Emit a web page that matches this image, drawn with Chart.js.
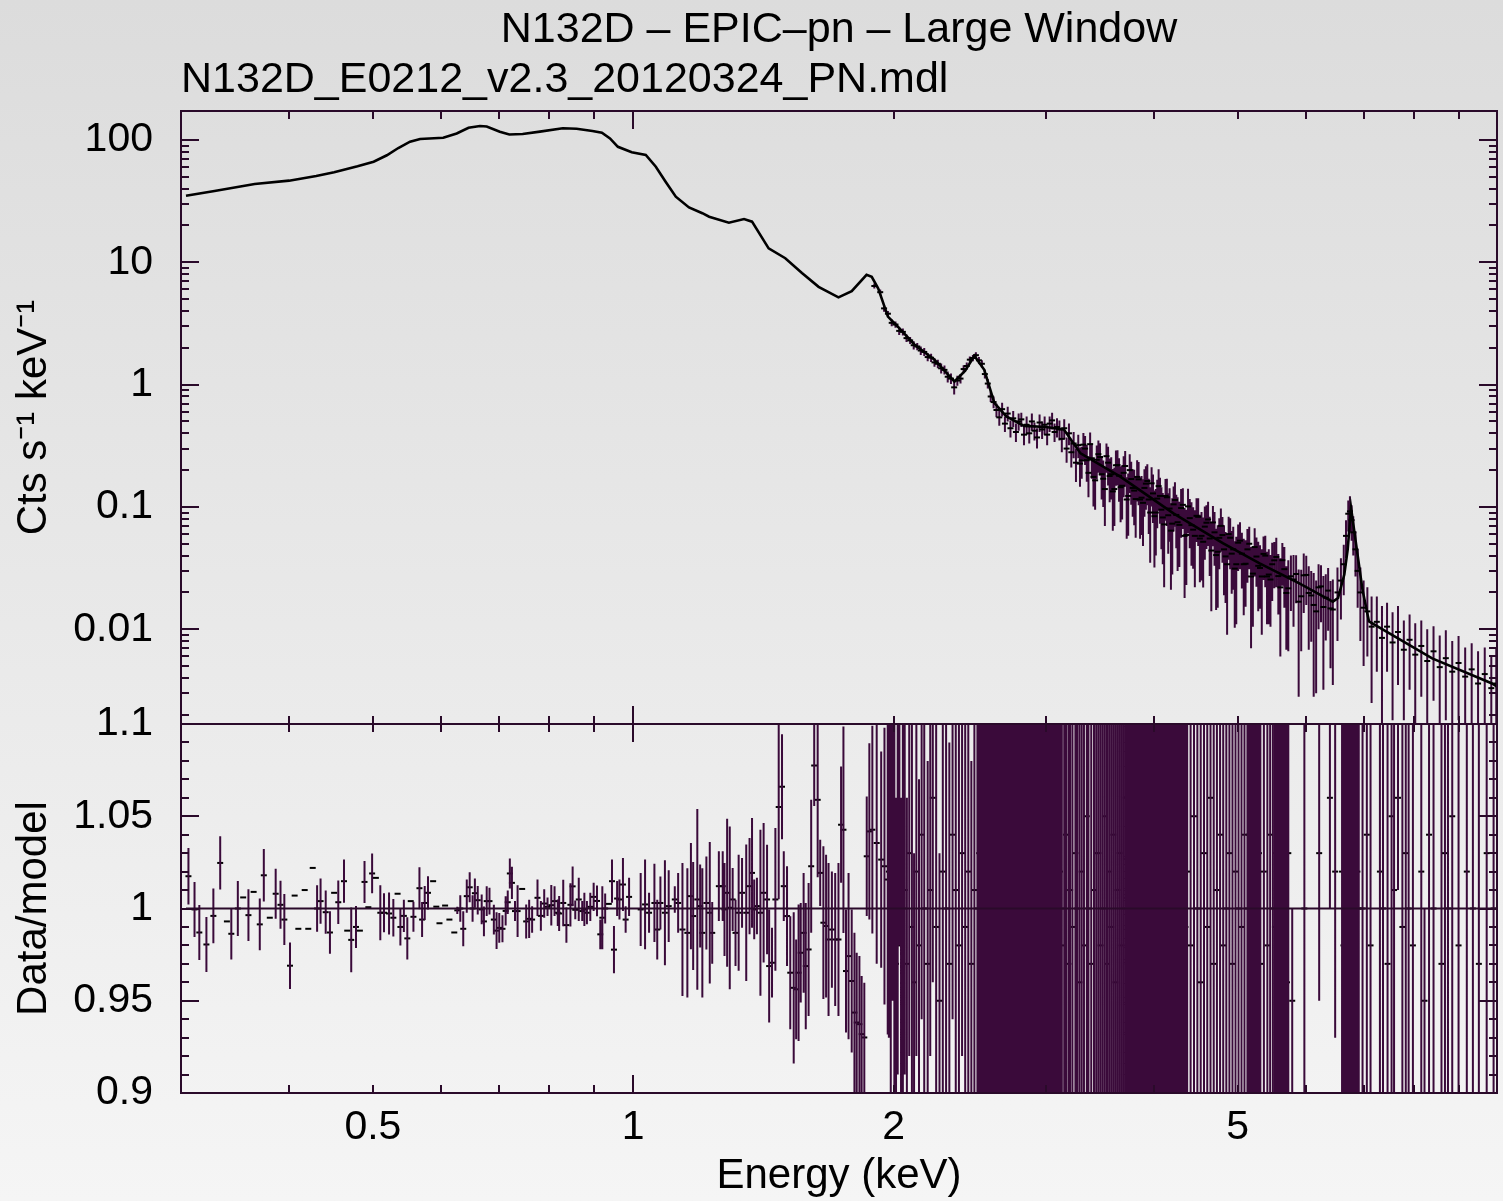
<!DOCTYPE html>
<html>
<head>
<meta charset="utf-8">
<script src="https://cdn.jsdelivr.net/npm/chart.js"></script>
<style>
  html, body { margin: 0; padding: 0; }
  body {
    width: 1503px; height: 1201px; position: relative; overflow: hidden;
    background: linear-gradient(#dcdcdc, #f5f5f5);
  }
  canvas { position: absolute; left: 0; top: 0; }
</style>
</head>
<body>
<canvas id="spec" width="1503" height="1201"></canvas>
<canvas id="ratio" width="1503" height="1201"></canvas>
<script>
// axis ranges
const xMin = 0.304, xMax = 9.97;
const specMin = 0.00168, specMax = 172.6;
const ratioMin = 0.9, ratioMax = 1.1;

const titleText = 'N132D \u2013 EPIC\u2013pn \u2013 Large Window';
const subtitleText = 'N132D_E0212_v2.3_20120324_PN.mdl';

// tick labels
const xTicks = [0.5, 1, 2, 5];
const xTickLabels = ['0.5', '1', '2', '5'];
const specTicks = [0.01, 0.1, 1, 10, 100];
const specTickLabels = ['0.01', '0.1', '1', '10', '100'];
const ratioTicks = [0.9, 0.95, 1, 1.05, 1.1];
const ratioTickLabels = ['0.9', '0.95', '1', '1.05', '1.1'];

// model curve (keV, counts/s/keV)
const modelE = [0.304, 0.328, 0.365, 0.40, 0.43, 0.451, 0.48, 0.501, 0.519, 0.535,
  0.552, 0.567, 0.603, 0.625, 0.645, 0.665, 0.677, 0.701, 0.719, 0.745,
  0.78, 0.829, 0.86, 0.897, 0.92, 0.94, 0.96, 0.996, 1.034, 1.062,
  1.09, 1.12, 1.16, 1.202, 1.224, 1.29, 1.343, 1.372, 1.434, 1.499,
  1.567, 1.638, 1.727, 1.789, 1.861, 1.887, 1.92, 1.97, 2.024, 2.115,
  2.23, 2.352, 2.42, 2.48, 2.546, 2.615, 2.7, 2.83, 3.0, 3.147,
  3.29, 3.657, 4.213, 4.81, 5.3, 5.89, 6.44, 6.53, 6.64, 6.70,
  6.76, 6.85, 6.97, 7.09, 8.39, 9.84, 9.97];
const modelRate = [35, 38.3, 43.7, 46.5, 50.8, 54.4, 61, 66.5, 75, 86,
  96.8, 102, 104.4, 113, 126, 130, 129, 117, 111, 112,
  117, 124.6, 123.5, 118.5, 114.7, 103, 88, 79.3, 75.4, 60.5,
  45.6, 34.4, 28.1, 25.2, 23.6, 21.1, 22.6, 21.5, 13, 10.8,
  8.17, 6.3, 5.17, 5.8, 7.9, 7.6, 6.1, 3.6, 2.96, 2.12,
  1.6, 1.06, 1.3, 1.72, 1.32, 0.71, 0.55, 0.46, 0.45, 0.43,
  0.274, 0.177, 0.0887, 0.0504, 0.0345, 0.0237, 0.0168, 0.018, 0.028, 0.045,
  0.098, 0.05, 0.0209, 0.0116, 0.00578, 0.0036, 0.0034];

// spectrum data points: [keV, rate, error]
const specData = [
  [1.90,6.4,0.3],[1.93,5.7,0.3],[1.95,4.2,0.25],[1.97,3.8,0.2],[1.99,3.2,0.2],
  [2.01,3.1,0.18],[2.03,2.75,0.2],[2.05,2.7,0.18],[2.07,2.4,0.17],[2.09,2.3,0.15],
  [2.11,2.1,0.16],[2.13,2.05,0.14],[2.15,1.9,0.15],[2.17,1.85,0.14],[2.19,1.68,0.13],
  [2.21,1.66,0.13],[2.23,1.52,0.12],[2.25,1.48,0.12],[2.27,1.36,0.13],[2.29,1.32,0.11],
  [2.31,1.16,0.12],[2.33,1.12,0.11],[2.35,0.95,0.12],[2.37,1.08,0.1],[2.39,1.12,0.1],
  [2.41,1.34,0.1],[2.43,1.42,0.1],[2.45,1.6,0.1],[2.47,1.65,0.1],[2.49,1.74,0.1],
  [2.51,1.58,0.1],[2.53,1.48,0.1],[2.55,1.22,0.1],[2.57,1.02,0.09],[2.59,0.8,0.08],
  [2.61,0.72,0.08],[2.63,0.62,0.08],[2.65,0.54,0.08],[2.67,0.63,0.08],[2.69,0.48,0.07],
  [2.71,0.58,0.08],[2.73,0.44,0.07],[2.75,0.53,0.08],[2.77,0.41,0.07],[2.79,0.5,0.08],
  [2.81,0.52,0.07],[2.83,0.39,0.07],[2.85,0.47,0.08],[2.87,0.4,0.07],[2.89,0.5,0.08],
  [2.91,0.42,0.07],[2.93,0.37,0.07],[2.95,0.49,0.08],[2.97,0.43,0.07],[2.99,0.47,0.08],
  [3.01,0.39,0.07],[3.03,0.48,0.07],[3.05,0.51,0.08],[3.07,0.41,0.07],[3.09,0.45,0.08],
  [3.11,0.43,0.08],[3.13,0.36,0.08],[3.15,0.44,0.08],[3.17,0.30,0.07],[3.19,0.40,0.08],
  [3.21,0.28,0.07],[3.23,0.33,0.08],[3.25,0.23,0.07],[3.27,0.32,0.07],[3.30,0.24,0.07],
  [3.33,0.30,0.08],[3.36,0.19,0.07],[3.39,0.25,0.08],[3.42,0.165,0.07],[3.45,0.27,0.08],
  [3.48,0.185,0.07],[3.51,0.14,0.07],[3.54,0.23,0.08],[3.57,0.185,0.07],[3.60,0.14,0.07],
  [3.63,0.22,0.07],[3.66,0.145,0.07],[3.69,0.19,0.07],[3.72,0.115,0.06],[3.75,0.2,0.07],
  [3.78,0.143,0.06],[3.81,0.116,0.06],[3.84,0.168,0.065],[3.87,0.119,0.06],[3.90,0.143,0.06],
  [3.93,0.163,0.06],[3.96,0.09,0.055],[3.99,0.129,0.055],[4.02,0.09,0.05],[4.05,0.148,0.055],
  [4.08,0.095,0.05],[4.11,0.072,0.05],[4.14,0.12,0.05],[4.17,0.097,0.045],[4.20,0.073,0.045],
  [4.23,0.114,0.045],[4.26,0.075,0.045],[4.30,0.098,0.042],[4.34,0.058,0.04],[4.38,0.101,0.04],
  [4.42,0.071,0.038],[4.46,0.058,0.036],[4.50,0.083,0.035],[4.54,0.058,0.033],[4.58,0.069,0.032],
  [4.62,0.079,0.031],[4.66,0.044,0.03],[4.70,0.062,0.029],[4.74,0.043,0.028],[4.78,0.07,0.027],
  [4.82,0.045,0.026],[4.86,0.034,0.025],[4.90,0.056,0.025],[4.94,0.045,0.024],[4.98,0.034,0.023],
  [5.03,0.053,0.022],[5.08,0.034,0.021],[5.13,0.045,0.021],[5.18,0.027,0.02],[5.23,0.047,0.02],
  [5.28,0.033,0.019],[5.33,0.027,0.018],[5.38,0.04,0.018],[5.43,0.028,0.017],[5.48,0.034,0.017],
  [5.54,0.039,0.017],[5.60,0.022,0.016],[5.66,0.031,0.016],[5.72,0.0216,0.015],[5.80,0.0255,0.015],
  [5.88,0.0168,0.014],[5.96,0.0276,0.014],[6.04,0.0198,0.013],[6.12,0.0158,0.013],[6.20,0.022,0.012],
  [6.28,0.0152,0.012],[6.36,0.0207,0.011],[6.44,0.0145,0.011],[6.52,0.02,0.012],[6.58,0.025,0.013],
  [6.63,0.034,0.015],[6.67,0.058,0.02],[6.71,0.088,0.025],[6.74,0.092,0.03],[6.77,0.078,0.025],
  [6.80,0.062,0.022],[6.84,0.045,0.018],[6.88,0.03,0.015],[6.93,0.02,0.012],[6.99,0.015,0.01],
  [7.06,0.014,0.008],[7.14,0.0105,0.008],[7.24,0.0115,0.007],[7.34,0.0085,0.007],[7.44,0.0105,0.006],
  [7.55,0.0078,0.006],[7.66,0.0095,0.006],[7.78,0.0068,0.005],[7.90,0.0082,0.005],[8.02,0.0062,0.005],
  [8.15,0.0073,0.0045],[8.28,0.0055,0.0045],[8.42,0.0066,0.004],[8.56,0.0049,0.004],[8.70,0.0058,0.004],
  [8.85,0.0045,0.0035],[9.00,0.0053,0.0035],[9.16,0.0041,0.003],[9.32,0.0047,0.003],[9.48,0.0036,0.003],
  [9.65,0.0043,0.0028],[9.82,0.0033,0.0028],[9.95,0.0036,0.0035],
  // bins in between, where the band is densest
  [3.285,0.226,0.08],[3.315,0.323,0.08],[3.345,0.241,0.08],[3.375,0.326,0.08],[3.405,0.176,0.075],
  [3.435,0.243,0.075],[3.465,0.256,0.075],[3.495,0.170,0.07],[3.525,0.26,0.07],[3.555,0.179,0.07],
  [3.585,0.134,0.07],[3.615,0.219,0.07],[3.645,0.18,0.07],[3.675,0.149,0.07],[3.705,0.216,0.07],
  [3.735,0.123,0.065],[3.765,0.169,0.065],[3.795,0.136,0.065],[3.825,0.176,0.065],[3.855,0.115,0.06],
  [3.885,0.108,0.06],[3.915,0.155,0.06],[3.945,0.115,0.055],[3.975,0.156,0.055],[4.005,0.084,0.052],
  [4.035,0.117,0.05],[4.065,0.123,0.05],[4.095,0.082,0.048],[4.125,0.123,0.046],[4.155,0.0855,0.044],
  [4.185,0.064,0.043],[4.215,0.105,0.042],[4.245,0.086,0.04],[4.28,0.0713,0.039],[4.32,0.104,0.038],
  [4.36,0.059,0.036],[4.40,0.081,0.035],[4.44,0.0652,0.034],[4.48,0.0846,0.033],[4.52,0.0552,0.031],
  [4.56,0.0519,0.03],[4.60,0.0743,0.029],[4.64,0.0552,0.028],[4.68,0.0747,0.027],[4.72,0.0404,0.026],
  [4.76,0.0559,0.025],[4.80,0.0589,0.024],[4.84,0.0394,0.023],[4.88,0.06,0.023],[4.92,0.0415,0.022],
  [4.96,0.0313,0.021],[5.005,0.051,0.021],[5.055,0.0415,0.02],[5.105,0.0343,0.019],[5.155,0.05,0.019],
  [5.205,0.0285,0.018],[5.255,0.0393,0.017],[5.305,0.0317,0.017],[5.355,0.0413,0.016],[5.405,0.027,0.016],
  [5.455,0.0255,0.015],[5.51,0.0366,0.015],[5.57,0.0272,0.014],[5.63,0.0367,0.014],[5.69,0.0198,0.013],
  [5.76,0.0271,0.013],[5.84,0.0283,0.012],[5.92,0.0186,0.012],[6.0,0.0278,0.012],[6.08,0.0189,0.011],
  [6.16,0.014,0.011],[6.24,0.0224,0.011],[6.32,0.0181,0.01],[6.40,0.0148,0.01]
];

// data/model ratio: [keV, ratio, error]
const ratioData = [
  [0.306,1.0175,0.0153],[0.311,0.9995,0.0149],[0.315,0.987,0.0149],[0.321,0.9805,0.0149],[0.327,0.996,0.0149],
  [0.333,1.0247,0.0144],[0.339,0.993,0],[0.343,0.9863,0.014],[0.349,1.0,0.0149],[0.354,1.006,0],
  [0.359,0.9964,0.014],[0.364,1.009,0],[0.370,0.9914,0.014],[0.374,1.018,0.0142],[0.380,0.995,0],
  [0.386,1.008,0.0136],[0.391,1.002,0.013],[0.395,0.994,0.0138],[0.401,0.969,0.0126],[0.406,1.007,0],
  [0.410,0.989,0],[0.417,1.010,0],[0.421,0.989,0],[0.426,1.022,0],[0.431,1.0,0.0126],
  [0.435,1.004,0.0122],[0.441,0.998,0.0117],[0.446,0.987,0.0115],[0.451,1.0085,0],[0.456,1.0034,0.0118],
  [0.463,1.0148,0.0117],[0.467,0.988,0],[0.472,0.983,0.0176],[0.478,0.990,0.0114],[0.483,0.988,0],
  [0.489,1.0144,0.0114],[0.494,1.0007,0],[0.499,1.019,0.0108],[0.504,1.0166,0],[0.510,0.9977,0.0149],
  [0.515,0.9977,0.0106],[0.522,0.9973,0.0114],[0.528,0.995,0.0102],[0.534,1.008,0],[0.538,0.990,0.0101],
  [0.543,0.996,0.0088],[0.548,0.9838,0.0114],[0.553,1.004,0],[0.557,0.9955,0.0081],[0.566,1.011,0.0114],
  [0.570,0.994,0.0095],[0.574,1.003,0.0092],[0.579,1.0085,0.009],[0.587,1.0148,0],[0.592,1.001,0],
  [0.597,0.992,0],[0.606,1.0016,0],[0.613,0.994,0],[0.621,0.987,0],[0.626,0.999,0.002],
  [0.631,1.0,0.0072],[0.636,0.989,0.0095],[0.642,1.0067,0.009],[0.647,1.0115,0.0081],[0.652,1.0,0.0072],
  [0.656,1.0083,0.0079],[0.661,1.0045,0.0077],[0.668,0.9995,0.0081],[0.672,0.993,0.0081],[0.677,1.004,0.0081],
  [0.682,1.004,0.0072],[0.690,0.994,0.0081],[0.695,0.988,0.0099],[0.700,0.9895,0.0081],[0.706,0.989,0.0073],
  [0.712,0.9987,0.0079],[0.716,1.0034,0.0064],[0.720,1.019,0.0081],[0.724,1.0139,0.0087],[0.730,0.9986,0.0054],
  [0.735,0.9986,0.014],[0.744,1.0106,0],[0.752,0.993,0.0092],[0.758,0.9944,0.0104],[0.764,0.994,0.0072],
  [0.775,1.0058,0.0099],[0.782,0.996,0.0081],[0.789,1.0027,0.0077],[0.796,1.0009,0.005],[0.804,1.0018,0.011],
  [0.811,1.004,0.0081],[0.818,0.9977,0.0072],[0.821,0.9973,0.0095],[0.830,1.003,0.0126],[0.837,0.991,0.0095],
  [0.846,1.002,0.0117],[0.851,1.012,0.0108],[0.857,0.9993,0.0051],[0.865,1.0049,0.0117],[0.873,0.9986,0.0054],
  [0.878,0.9995,0.009],[0.884,0.9977,0.0063],[0.892,1.0009,0.0077],[0.900,1.0063,0.0077],[0.908,1.0041,0.0083],
  [0.916,0.986,0.0081],[0.921,0.995,0.0171],[0.928,1.0,0.0081],[0.937,1.0025,0],[0.945,1.0148,0.0117],
  [0.950,0.9777,0.0128],[0.958,1.0054,0.0095],[0.964,1.0049,0.0108],[0.973,1.013,0.0144],[0.980,0.994,0.0072],
  [0.989,1.0063,0.0104],
  [1.020,0.9995,0.0198],[1.032,1.0022,0.0243],[1.043,0.9977,0.0108],[1.058,1.003,0.0212],[1.066,0.9886,0.0162],
  [1.075,1.003,0.0144],[1.088,0.9977,0.0284],[1.099,1.0013,0.0194],[1.117,1.0049,0.0072],[1.127,1.003,0.0162],
  [1.140,0.9886,0.036],[1.155,0.9868,0.035],[1.166,1.0067,0.0288],[1.173,0.9959,0.0293],[1.186,1.0049,0.049],
  [1.195,1.0013,0.0225],[1.202,0.9868,0.035],[1.215,1.003,0.0252],[1.226,0.9977,0.0383],[1.234,0.9868,0.0167],
  [1.256,1.0121,0.0189],[1.269,1.0121,0.0189],[1.275,0.9995,0.0252],[1.284,1.0085,0.0401],[1.293,1.0004,0.0441],
  [1.303,1.0049,0.0171],[1.313,0.9868,0.018],[1.324,0.9977,0.0315],[1.336,1.0085,0.0189],[1.351,0.9977,0.037],
  [1.363,1.0121,0.0261],[1.372,1.0193,0.0297],[1.380,0.9995,0.0162],[1.390,1.0013,0.0153],[1.403,0.9977,0.045],
  [1.415,1.0085,0.0378],[1.428,1.0049,0.0297],[1.436,0.9688,0.0306],[1.447,0.9706,0.0189],[1.460,1.0049,0.0387],
  [1.473,1.055,0.05],[1.486,1.066,0.0284],[1.493,1.0121,0.0189],[1.506,0.9959,0.027],[1.519,0.9652,0.0306],
  [1.533,0.957,0.041],[1.543,0.9562,0.027],[1.553,0.9652,0.037],[1.562,0.976,0.027],[1.574,0.9868,0.0324],
  [1.583,0.9688,0.0342],[1.595,0.9778,0.036],[1.606,1.0229,0.036],[1.619,1.0775,0.022],[1.634,1.0589,0.042],
  [1.645,1.0193,0.018],[1.659,0.9923,0.0414],[1.671,0.9905,0.0387],[1.682,0.9832,0.0414],[1.697,0.9886,0.0315],
  [1.712,0.9832,0.036],[1.727,0.9832,0.0414],[1.739,1.0454,0.0315],[1.750,1.0427,0.056],[1.762,0.9661,0.0333],
  [1.774,0.9742,0.045],[1.789,0.9607,0.0387],[1.802,0.9436,0.0432],[1.813,0.9382,0.0378],[1.826,0.9373,0.0369],
  [1.837,0.9319,0.0315],[1.850,0.9301,0.0297],[1.862,1.0283,0.0324],[1.875,1.0418,0.0477],[1.890,1.0427,0.0563],
  [1.912,1.0355,0.0654],[1.935,1.0265,0.0586],[1.952,1.0229,0.075],[1.969,1.0157,0.084],
  [1.975,1.02,0.09],[1.985,0.99,0.11],[1.995,1.03,0.08],[2.004,1.0,0.12],[2.013,0.97,0.09],
  [2.022,1.01,0.1],[2.031,1.05,0.07],[2.04,0.98,0.08],[2.05,1.0,0.1],[2.06,1.01,0.1],
  [2.072,0.97,0.09],[2.085,1.03,0.11],[2.1,0.99,0.12],[2.112,0.96,0.07],[2.125,1.02,0.1],
  [2.14,0.98,0.09],[2.155,1.04,0.1],[2.17,1.0,0.12],[2.19,0.97,0.11],[2.205,1.01,0.09],
  [2.22,1.06,0.1],[2.24,0.99,0.13],[2.26,0.95,0.08],[2.28,1.02,0.12],[2.3,1.0,0.1],
  [2.32,0.97,0.12],[2.34,1.04,0.1],[2.36,1.01,0.13],[2.38,0.98,0.12],[2.4,1.03,0.11],
  [2.42,0.99,0.12],[2.44,1.02,0.13],[2.46,0.97,0.11],[2.48,1.01,0.12],
  [2.500,1.0,0.15],[2.512,1.03,0.18],[2.524,0.97,0.14],[2.536,1.02,0.2],[2.548,0.99,0.16],
  [2.560,1.05,0.17],[2.572,0.98,0.19],[2.584,1.01,0.15],[2.596,0.96,0.18],[2.608,1.04,0.16],
  [2.620,1.0,0.2],[2.632,0.98,0.17],[2.644,1.03,0.15],[2.656,1.01,0.19],[2.668,0.97,0.16],
  [2.680,1.02,0.18],[2.692,0.99,0.2],[2.704,1.04,0.15],[2.716,1.0,0.17],[2.728,0.97,0.19],
  [2.740,1.02,0.16],[2.752,1.05,0.18],[2.764,0.98,0.15],[2.776,1.0,0.2],[2.788,1.03,0.17],
  [2.800,0.96,0.16],[2.812,1.01,0.19],[2.824,0.99,0.18],[2.836,1.04,0.15],[2.848,1.0,0.2],
  [2.860,0.98,0.17],[2.872,1.02,0.16],[2.884,0.97,0.18],[2.896,1.03,0.19],[2.908,1.0,0.15],
  [2.920,0.99,0.2],[2.932,1.05,0.17],[2.944,0.98,0.16],[2.956,1.01,0.18],[2.968,1.02,0.15],
  [2.980,0.97,0.19],[2.992,1.0,0.2],[3.004,1.04,0.16],[3.016,0.99,0.17],[3.028,1.01,0.18],
  [3.040,0.96,0.15],[3.052,1.03,0.19],[3.064,1.0,0.16],[3.076,0.98,0.2],[3.088,1.02,0.17],
  [3.100,1.0,0.18],
  [3.115,1.02,0.16],[3.13,0.98,0.18],[3.15,1.0,0.2],[3.165,1.04,0.15],[3.185,0.97,0.17],
  [3.2,1.01,0.19],[3.22,0.99,0.16],[3.245,1.03,0.2],[3.26,1.0,0.18],[3.28,0.96,0.17],
  [3.3,1.02,0.2],[3.32,0.98,0.19],[3.345,1.05,0.17],[3.36,1.0,0.2],[3.385,0.97,0.18],
  [3.41,1.01,0.2],[3.43,1.03,0.19],
  [3.45,1.03,0.22],[3.47,0.98,0.25],[3.49,1.0,0.2],[3.51,1.05,0.28],[3.53,0.97,0.24],
  [3.55,1.02,0.21],[3.57,0.99,0.26],[3.59,1.04,0.23],[3.61,0.96,0.27],[3.63,1.01,0.22],
  [3.65,1.03,0.25],[3.67,0.98,0.2],[3.69,1.0,0.29],[3.71,1.06,0.24],[3.73,0.97,0.22],
  [3.75,1.02,0.26],[3.77,0.99,0.21],[3.79,1.04,0.25],[3.81,1.0,0.23],[3.83,0.96,0.28],
  [3.85,1.03,0.22],[3.87,1.01,0.24],[3.89,0.98,0.27],[3.91,1.05,0.21],[3.93,0.99,0.25],
  [3.95,1.02,0.23],[3.97,0.97,0.26],[3.99,1.0,0.22],[4.01,1.04,0.28],[4.03,0.98,0.24],
  [4.05,1.01,0.21],[4.07,1.03,0.25],[4.09,0.96,0.27],[4.11,1.0,0.23],[4.13,1.05,0.22],
  [4.15,0.99,0.26],[4.17,1.02,0.24],[4.19,0.97,0.28],[4.21,1.01,0.21],[4.23,1.04,0.25],
  [4.25,0.98,0.23],[4.27,1.0,0.27],[4.29,1.03,0.22],[4.31,0.97,0.26],[4.33,1.02,0.24],
  [4.35,0.99,0.25],
  [4.37,1.02,0.28],[4.41,0.98,0.3],[4.45,1.05,0.25],[4.49,1.0,0.32],[4.53,0.96,0.27],
  [4.57,1.03,0.3],[4.61,0.99,0.26],[4.65,1.06,0.33],[4.69,0.97,0.28],[4.73,1.01,0.31],
  [4.77,1.04,0.27],[4.81,0.98,0.3],[4.85,1.0,0.34],[4.89,1.03,0.28],[4.93,0.97,0.3],
  [4.97,1.02,0.27],[5.01,1.0,0.32],[5.05,0.99,0.29],[5.09,1.04,0.3],
  [5.13,1.0,0.3],[5.15,1.04,0.33],[5.17,0.97,0.29],[5.19,1.02,0.35],[5.21,0.99,0.31],
  [5.23,1.05,0.3],[5.25,0.98,0.34],[5.27,1.01,0.32],[5.29,1.03,0.3],[5.31,0.97,0.33],
  [5.36,1.02,0.32],[5.41,0.98,0.35],[5.45,1.04,0.3],[5.49,1.0,0.34],
  [5.52,0.99,0.34],[5.54,1.03,0.36],[5.56,1.0,0.33],[5.58,0.97,0.37],[5.60,1.05,0.35],
  [5.62,1.01,0.34],[5.64,0.98,0.38],[5.66,1.02,0.35],[5.68,1.0,0.36],[5.70,0.96,0.34],
  [5.72,1.03,0.37],
  [5.78,0.95,0.05],[5.97,1.0,0.2],[6.21,1.03,0.08],[6.39,1.06,0.06],[6.48,1.02,0.09],
  [6.600,1.02,0.25],[6.625,0.98,0.22],[6.650,1.0,0.2],[6.675,1.04,0.18],[6.700,0.97,0.17],
  [6.725,1.01,0.2],[6.750,1.03,0.22],[6.775,0.99,0.25],[6.800,1.0,0.27],[6.825,1.05,0.3],
  [6.850,0.98,0.32],[6.875,1.02,0.35],[6.900,1.0,0.38],
  [6.97,1.0,0.4],[7.05,1.04,0.42],[7.12,0.98,0.38],[7.30,1.02,0.45],[7.36,1.0,0.4],
  [7.45,0.97,0.43],[7.53,1.05,0.41],[7.58,1.01,0.44],[7.66,1.06,0.05],[7.75,0.99,0.42],
  [7.82,1.03,0.46],[7.88,1.0,0.4],[7.97,0.98,0.44],[8.15,1.02,0.45],[8.22,0.95,0.05],
  [8.32,1.04,0.43],[8.42,1.0,0.47],[8.60,0.97,0.42],[8.68,1.03,0.45],[8.75,1.0,0.48],
  [8.85,1.05,0.44],[9.00,0.98,0.5],[9.20,1.02,0.46],[9.35,1.0,0.48],[9.50,0.97,0.5],
  [9.70,1.03,0.52],[9.88,1.0,0.55]
];

const axisColour = '#2a0a2a';
const barColour = 'rgb(58,10,58)';
const fontFamily = '"Liberation Sans", Arial, Helvetica, sans-serif';

Chart.defaults.font.family = fontFamily;
Chart.defaults.color = '#000';

// vertical error bars as line segments broken by gaps
function errorSegments(rows, floor) {
    const pts = [];
    rows.forEach(([e, v, err]) => {
        pts.push({x: e, y: Math.max(v - err, floor)});
        pts.push({x: e, y: v + err});
        pts.push({x: e, y: null});
    });
    return pts;
}

// minor tick positions on a log axis
function logMinor(lo, hi) {
    const out = [];
    for (let d = Math.floor(Math.log10(lo)); d <= Math.ceil(Math.log10(hi)); d++) {
        for (let m = 2; m <= 9; m++) {
            const v = m * Math.pow(10, d);
            if (v > lo && v < hi) out.push(v);
        }
    }
    return out;
}

const xMajor = [1];
const xMinor = logMinor(xMin, xMax);
const specMinor = logMinor(specMin, specMax);
const ratioMinor = [0.91, 0.92, 0.93, 0.94, 0.96, 0.97, 0.98, 0.99, 1.01, 1.02, 1.03, 1.04, 1.06, 1.07, 1.08, 1.09];

// frame plus inward ticks on all four sides, like the xspec plot
function frameTicks(yMajor, yMinor) {
    return {
        id: 'frameTicks',
        afterDatasetsDraw(chart) {
            const {ctx, chartArea: a, scales: {x, y}} = chart;
            ctx.save();
            ctx.strokeStyle = axisColour;
            ctx.lineWidth = 2;
            ctx.beginPath();
            const xMark = (list, len) => list.forEach(v => {
                const px = Math.round(x.getPixelForValue(v));
                if (px <= a.left || px >= a.right) return;
                ctx.moveTo(px, a.bottom); ctx.lineTo(px, a.bottom - len);
                ctx.moveTo(px, a.top); ctx.lineTo(px, a.top + len);
            });
            const yMark = (list, len) => list.forEach(v => {
                const py = Math.round(y.getPixelForValue(v));
                if (py < a.top || py > a.bottom) return;
                ctx.moveTo(a.left, py); ctx.lineTo(a.left + len, py);
                ctx.moveTo(a.right, py); ctx.lineTo(a.right - len, py);
            });
            xMark(xMinor, 8);
            xMark(xMajor, 18);
            yMark(yMinor, 8);
            yMark(yMajor, 18);
            ctx.stroke();
            ctx.strokeRect(a.left, a.top, a.right - a.left, a.bottom - a.top);
            ctx.restore();
        }
    };
}

const labelFont = {size: 41, lineHeight: 1};
const titleFont = {size: 42, lineHeight: 1};

// upper panel: spectrum
new Chart(document.getElementById('spec'), {
    type: 'line',
    data: {
        datasets: [
            {
                data: modelE.map((e, i) => ({x: e, y: modelRate[i]})),
                borderColor: '#000', borderWidth: 2.6, pointRadius: 0, tension: 0
            },
            {
                data: specData.map(([e, v]) => ({x: e, y: v})),
                showLine: false, pointStyle: 'line', pointRadius: 3,
                pointBorderWidth: 2, pointBorderColor: '#000'
            },
            {
                data: errorSegments(specData, specMin / 10),
                borderColor: barColour, borderWidth: 2, pointRadius: 0, spanGaps: false, clip: 0
            }
        ]
    },
    options: {
        responsive: false, animation: false, devicePixelRatio: 1, events: [],
        layout: {padding: {left: 0, right: 2, top: 0, bottom: 477}},
        plugins: {
            legend: {display: false},
            tooltip: {enabled: false},
            title: {
                display: true, text: titleText, fullSize: false,
                font: {size: 43, lineHeight: 1, weight: 'normal'}, color: '#000',
                padding: {top: 9, bottom: 7}
            },
            subtitle: {
                display: true, text: subtitleText, fullSize: false, align: 'start',
                font: {size: 43, lineHeight: 1}, color: '#000',
                padding: {top: 0, bottom: 9}
            }
        },
        scales: {
            x: {
                type: 'logarithmic', min: xMin, max: xMax,
                ticks: {display: false}, grid: {display: false, drawTicks: false}, border: {display: false},
                afterFit: (s) => { s.height = 0; }
            },
            y: {
                type: 'logarithmic', min: specMin, max: specMax,
                grid: {display: false, drawTicks: false}, border: {display: false},
                afterBuildTicks: (s) => { s.ticks = specTicks.map(v => ({value: v})); },
                ticks: {
                    autoSkip: false, padding: 28, font: labelFont, color: '#000',
                    callback: (v, i) => specTickLabels[i]
                },
                title: {
                    display: true, text: 'Cts s\u207B\u00B9 keV\u207B\u00B9',
                    font: titleFont, color: '#000', padding: {top: 13, bottom: 0}
                },
                afterFit: (s) => { s.width = 181; }
            }
        }
    },
    plugins: [frameTicks(specTicks, specMinor)]
});

// lower panel: data/model (bars drawn over the bin marks)
new Chart(document.getElementById('ratio'), {
    type: 'line',
    data: {
        datasets: [
            {
                data: [{x: xMin, y: 1}, {x: xMax, y: 1}],
                borderColor: axisColour, borderWidth: 2, pointRadius: 0
            },
            {
                data: errorSegments(ratioData, 0.5),
                borderColor: barColour, borderWidth: 2, pointRadius: 0, spanGaps: false, clip: 0
            },
            {
                data: ratioData.map(([e, v]) => ({x: e, y: v})),
                showLine: false, pointStyle: 'line', pointRadius: 3,
                pointBorderWidth: 2, pointBorderColor: '#000', clip: 0
            }
        ]
    },
    options: {
        responsive: false, animation: false, devicePixelRatio: 1, events: [],
        layout: {padding: {left: 0, right: 2, top: 724, bottom: 0}},
        plugins: {legend: {display: false}, tooltip: {enabled: false}},
        scales: {
            x: {
                type: 'logarithmic', min: xMin, max: xMax,
                grid: {display: false, drawTicks: false}, border: {display: false},
                afterBuildTicks: (s) => { s.ticks = xTicks.map(v => ({value: v})); },
                ticks: {
                    autoSkip: false, maxRotation: 0, minRotation: 0, padding: 14,
                    font: labelFont, color: '#000',
                    callback: (v, i) => xTickLabels[i]
                },
                title: {
                    display: true, text: 'Energy (keV)', font: titleFont, color: '#000',
                    padding: {top: 0, bottom: 4}
                },
                afterFit: (s) => { s.height = 108; }
            },
            y: {
                type: 'linear', min: ratioMin, max: ratioMax,
                grid: {display: false, drawTicks: false}, border: {display: false},
                afterBuildTicks: (s) => { s.ticks = ratioTicks.map(v => ({value: v})); },
                ticks: {
                    autoSkip: false, padding: 28, font: labelFont, color: '#000',
                    callback: (v, i) => ratioTickLabels[i]
                },
                title: {
                    display: true, text: 'Data/model', font: titleFont, color: '#000',
                    padding: {top: 13, bottom: 0}
                },
                afterFit: (s) => { s.width = 181; }
            }
        }
    },
    plugins: [frameTicks(ratioTicks, ratioMinor)]
});
</script>
</body>
</html>
